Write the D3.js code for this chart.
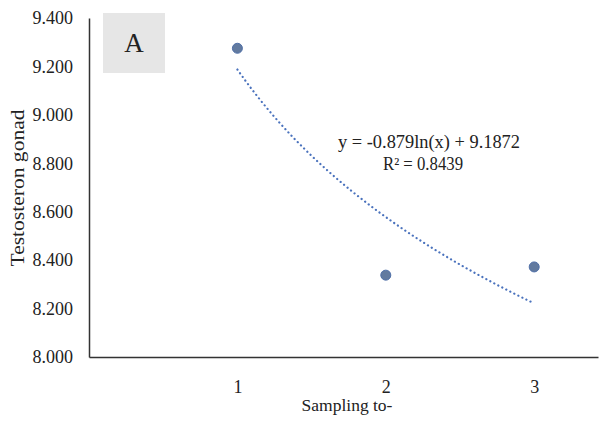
<!DOCTYPE html>
<html>
<head>
<meta charset="utf-8">
<script src="https://cdn.jsdelivr.net/npm/d3@7"></script>
<style>
  body { margin: 0; background: #fff; }
  text { font-family: "Liberation Serif", "Times New Roman", serif; fill: #222; }
</style>
</head>
<body>
<div id="chart"></div>
<script>
// data
var samples = [1, 2, 3];
var testosteron = [9.275, 8.338, 8.372];
var yTicks = [8.0, 8.2, 8.4, 8.6, 8.8, 9.0, 9.2, 9.4];
var trendA = -0.879, trendB = 9.1872;   // y = a ln(x) + b
var eqLines = ["y = -0.879ln(x) + 9.1872", "R\u00b2 = 0.8439"];

var width = 603, height = 423;
var mLeft = 89, mRight = 598, mTop = 18, mBottom = 357;
var serif = "'Liberation Serif', 'Times New Roman', serif";

var svg = d3.select("#chart").append("svg")
    .attr("width", width)
    .attr("height", height);

var x = d3.scaleLinear().domain([0, 3.43]).range([mLeft, mRight]);
var y = d3.scaleLinear().domain([8.0, 9.4]).range([mBottom, mTop]);

// y axis
var yAxis = d3.axisLeft(y).tickValues(yTicks).tickSize(0).tickPadding(16)
    .tickFormat(d3.format(".3f"));
var gy = svg.append("g").attr("transform", "translate(" + mLeft + ",0)").call(yAxis)
    .attr("font-family", serif);
gy.select(".domain").attr("stroke", "#333").attr("stroke-width", 1.5);
gy.selectAll("text").style("font-size", "18px").attr("fill", "#333");

// x axis
var xAxis = d3.axisBottom(x).tickValues(samples).tickSize(0).tickPadding(23)
    .tickFormat(d3.format("d"));
var gx = svg.append("g").attr("transform", "translate(0," + mBottom + ")").call(xAxis)
    .attr("font-family", serif);
gx.select(".domain").attr("stroke", "#333").attr("stroke-width", 1.5);
gx.selectAll("text").style("font-size", "18px").attr("fill", "#333");

// axis titles
svg.append("text")
    .attr("transform", "translate(24,188) rotate(-90)")
    .attr("text-anchor", "middle")
    .attr("textLength", 157)
    .attr("lengthAdjust", "spacingAndGlyphs")
    .attr("font-family", serif)
    .style("font-size", "18px")
    .attr("fill", "#333")
    .text("Testosteron gonad");

svg.append("text")
    .attr("x", 347).attr("y", 411)
    .attr("text-anchor", "middle")
    .attr("font-family", serif)
    .style("font-size", "17.5px")
    .attr("fill", "#333")
    .text("Sampling to-");

// panel letter
svg.append("rect")
    .attr("x", 103).attr("y", 13).attr("width", 62).attr("height", 60)
    .attr("fill", "#e6e6e6");
svg.append("text")
    .attr("x", 134).attr("y", 52)
    .attr("text-anchor", "middle")
    .attr("font-family", serif)
    .style("font-size", "27px")
    .attr("fill", "#000")
    .text("A");

// log trendline
var trendPts = d3.range(1, 3.0001, 0.05).map(function (t) { return [t, trendA * Math.log(t) + trendB]; });
svg.append("path")
    .datum(trendPts)
    .attr("d", d3.line().x(function (d) { return x(d[0]); }).y(function (d) { return y(d[1]); }))
    .attr("fill", "none")
    .attr("stroke", "#4a72bd")
    .attr("stroke-width", 2.2)
    .attr("stroke-linecap", "round")
    .attr("stroke-dasharray", "0.1,4.4");

// points
svg.selectAll("circle.pt")
    .data(samples)
    .enter()
    .append("circle")
    .attr("class", "pt")
    .attr("cx", function (d) { return x(d); })
    .attr("cy", function (d, i) { return y(testosteron[i]); })
    .attr("r", 5)
    .attr("fill", "#627a9f")
    .attr("stroke", "#4f6fa8")
    .attr("stroke-width", 1);

// equation
var eqWidths = [182, 80];
svg.selectAll("text.eq")
    .data(eqLines)
    .enter()
    .append("text")
    .attr("class", "eq")
    .attr("x", function (d, i) { return i === 0 ? 429 : 423; })
    .attr("y", function (d, i) { return 148 + i * 22; })
    .attr("text-anchor", "middle")
    .attr("textLength", function (d, i) { return eqWidths[i]; })
    .attr("lengthAdjust", "spacingAndGlyphs")
    .attr("font-family", serif)
    .style("font-size", "18px")
    .attr("fill", "#222")
    .text(function (d) { return d; });
</script>
</body>
</html>
